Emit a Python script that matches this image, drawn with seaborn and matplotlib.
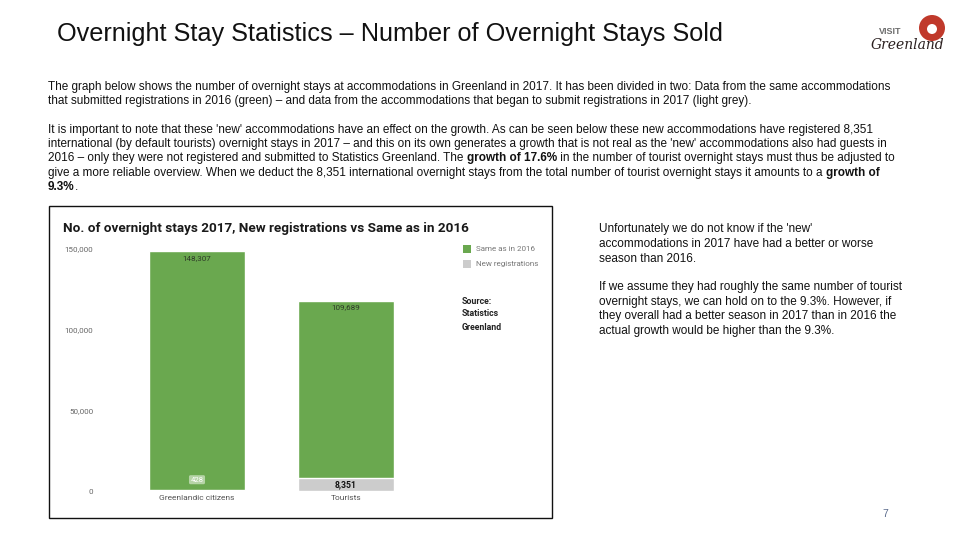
import numpy as np
import pandas as pd
import matplotlib.pyplot as plt
import seaborn as sns
from matplotlib.patches import Rectangle, Ellipse

# data
categories = ["Greenlandic citizens", "Tourists"]
same_2016 = [148307, 109689]
new_reg = [428, 8351]
yticks = [0, 50000, 100000, 150000]

GREEN = "#6aa84f"
GREY = "#cccccc"
W, H = 960, 540

sns.set_style("white")
plt.rcParams["font.family"] = ["Liberation Sans", "DejaVu Sans"]

fig = plt.figure(figsize=(9.6, 5.4), dpi=100)


def fx(px):
    return px / W


def fy(py):
    return 1 - py / H


renderer = fig.canvas.get_renderer()


def text_w(s, **kw):
    t = fig.text(0, 0, s, **kw)
    w = t.get_window_extent(renderer).width
    t.remove()
    return w


def rich_line(x, y, runs, **kw):
    # draw a line made of normal/bold pieces, left to right
    px = x
    for s, bold in runs:
        wt = "bold" if bold else "normal"
        fig.text(fx(px), fy(y), s, fontweight=wt, va="center", **kw)
        px += text_w(s, fontweight=wt, **kw)


# --- slide title and logo ---
fig.text(fx(57), fy(34), "Overnight Stay Statistics – Number of Overnight Stays Sold",
         fontsize=18.2, va="center", color="#111111")
fig.text(fx(879), fy(32), "VISIT", fontsize=6.5, fontweight="bold", color="#6d6d6d", va="center")
fig.text(fx(871), fy(45), "Greenland", fontsize=10, fontstyle="italic", family="DejaVu Serif",
         color="#2a1f1f", va="center")
fig.patches.append(Ellipse((fx(932), fy(28)), 26 / W, 26 / H, transform=fig.transFigure,
                           facecolor="#c0392b", edgecolor="none"))
fig.patches.append(Ellipse((fx(932), fy(29)), 10 / W, 10 / H, transform=fig.transFigure,
                           facecolor="white", edgecolor="none"))

# --- body text ---
body = dict(fontsize=8.5, color="#111111")
rich_line(48, 87, [("The graph below shows the number of overnight stays at accommodations in Greenland in 2017. It has been divided in two: Data from the same accommodations", False)], **body)
rich_line(48, 101, [("that submitted registrations in 2016 (green) – and data from the accommodations that began to submit registrations in 2017 (light grey).", False)], **body)
rich_line(48, 130, [("It is important to note that these 'new' accommodations have an effect on the growth. As can be seen below these new accommodations have registered 8,351", False)], **body)
rich_line(48, 144, [("international (by default tourists) overnight stays in 2017 – and this on its own generates a growth that is not real as the 'new' accommodations also had guests in", False)], **body)
rich_line(48, 158, [("2016 – only they were not registered and submitted to Statistics Greenland. The ", False),
                    ("growth of 17.6%", True),
                    (" in the number of tourist overnight stays must thus be adjusted to", False)], **body)
rich_line(48, 173, [("give a more reliable overview. When we deduct the 8,351 international overnight stays from the total number of tourist overnight stays it amounts to a ", False),
                    ("growth of", True)], **body)
rich_line(48, 187, [("9.3%", True), (".", False)], **body)

right_lines = [
    (229, "Unfortunately we do not know if the 'new'"),
    (244, "accommodations in 2017 have had a better or worse"),
    (259, "season than 2016."),
    (287, "If we assume they had roughly the same number of tourist"),
    (302, "overnight stays, we can hold on to the 9.3%. However, if"),
    (316, "they overall had a better season in 2017 than in 2016 the"),
    (331, "actual growth would be higher than the 9.3%."),
]
for y, s in right_lines:
    fig.text(fx(599), fy(y), s, va="center", **body)

fig.text(fx(882), fy(514), "7", fontsize=7.5, color="#5b6b8c", va="center")

# --- chart box ---
fig.patches.append(Rectangle((fx(49), fy(518)), fx(503), (518 - 206) / H,
                             transform=fig.transFigure, facecolor="white",
                             edgecolor="#111111", linewidth=1.0, zorder=-5))

fig.text(fx(63), fy(228), "No. of overnight stays 2017, New registrations vs Same as in 2016",
         fontsize=9.7, fontweight="bold", family="Roboto", color="#1a1a1a", va="center")

ax = fig.add_axes([fx(122.5), 49 / H, fx(298), 242 / H])
ax.patch.set_alpha(0)
df = pd.DataFrame({"category": categories,
                   "total": np.array(same_2016) + np.array(new_reg),
                   "new": new_reg})
sns.barplot(data=df, x="category", y="total", color=GREEN, width=0.65,
            saturation=1, ax=ax)
sns.barplot(data=df, x="category", y="new", color=GREY, width=0.65,
            saturation=1, ax=ax)
ax.set_xlim(-0.5, 1.5)
ax.set_ylim(0, 150000)
ax.set_yticks(yticks)
ax.set_yticklabels([f"{v:,}" for v in yticks], family="Roboto", fontsize=5.8, color="#666666")
ax.set_xticks(range(len(categories)))
ax.set_xticklabels(categories, family="Roboto", fontsize=6, color="#555555")
ax.tick_params(axis="y", length=0, pad=21)
ax.tick_params(axis="x", length=0, pad=3)
ax.set_xlabel("")
ax.set_ylabel("")
for sp in ax.spines.values():
    sp.set_visible(False)
ax.axhline(0, color="#dddddd", lw=0.6)

# value labels
for i, (s, n) in enumerate(zip(same_2016, new_reg)):
    ax.text(i, s + n - 2500, f"{s:,}", ha="center", va="top", fontsize=5.8,
            family="Roboto", color="#2e3a28")
ax.text(0, 7000, f"{new_reg[0]:,}", ha="center", va="center", fontsize=5.5,
        family="Roboto", color="white",
        bbox=dict(boxstyle="round,pad=0.2", fc="#b5d4a6", ec="none"))
ax.text(1, new_reg[1] / 2, f"{new_reg[1]:,}", ha="center", va="center", fontsize=6.2,
        family="Roboto", fontweight="bold", color="#111111")

# legend and source
for y, lab, c in [(249, "Same as in 2016", GREEN), (264, "New registrations", GREY)]:
    fig.patches.append(Rectangle((fx(463), fy(y + 4)), fx(8), 8 / H,
                                 transform=fig.transFigure, facecolor=c, edgecolor="none"))
    fig.text(fx(476), fy(y), lab, fontsize=5.8, family="Roboto", color="#777777", va="center")
for y, s in [(301, "Source:"), (314, "Statistics"), (327, "Greenland")]:
    fig.text(fx(462), fy(y), s, fontsize=6.3, family="Roboto", fontweight="bold",
             color="#222222", va="center")

fig.savefig("out.png", dpi=100)
